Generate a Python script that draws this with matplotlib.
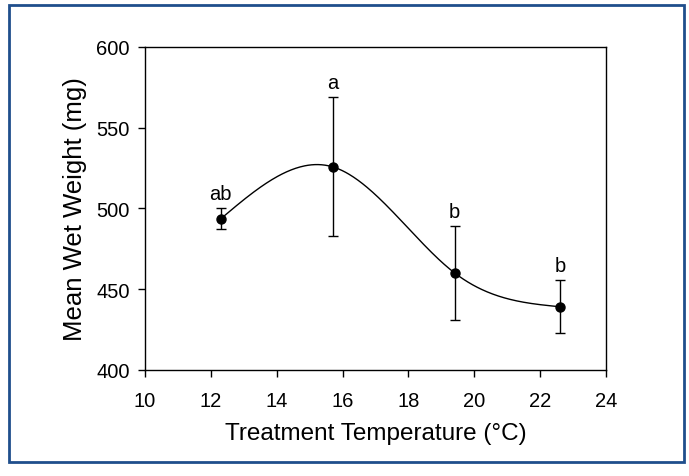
import numpy as np
import matplotlib.pyplot as plt
from matplotlib.patches import Rectangle

plt.rcParams["font.family"] = ["Liberation Sans", "DejaVu Sans"]

# data
temps = [12.3, 15.7, 19.4, 22.6]
weights = [493.5, 525.7, 460.0, 439.0]
errors = [6.5, 43.0, 29.0, 16.3]
groups = ["ab", "a", "b", "b"]


def natural_spline(x, y, xs):
    """natural cubic spline through the points (smooth line like SigmaPlot)"""
    x = np.asarray(x, float)
    y = np.asarray(y, float)
    n = len(x)
    h = np.diff(x)
    A = np.zeros((n, n))
    r = np.zeros(n)
    A[0, 0] = A[-1, -1] = 1
    for i in range(1, n - 1):
        A[i, i - 1] = h[i - 1]
        A[i, i] = 2 * (h[i - 1] + h[i])
        A[i, i + 1] = h[i]
        r[i] = 6 * ((y[i + 1] - y[i]) / h[i] - (y[i] - y[i - 1]) / h[i - 1])
    m = np.linalg.solve(A, r)
    out = np.empty_like(xs)
    for k, xv in enumerate(xs):
        i = min(max(np.searchsorted(x, xv) - 1, 0), n - 2)
        t0 = x[i + 1] - xv
        t1 = xv - x[i]
        out[k] = (m[i] * t0 ** 3 + m[i + 1] * t1 ** 3) / (6 * h[i]) \
            + (y[i] / h[i] - m[i] * h[i] / 6) * t0 \
            + (y[i + 1] / h[i] - m[i + 1] * h[i] / 6) * t1
    return out


fig = plt.figure(figsize=(6.89, 4.77), dpi=100)
fig.patches.append(Rectangle((9 / 689, 1 - 463 / 477), 675 / 689, 457 / 477,
                             transform=fig.transFigure, fill=False,
                             edgecolor="#1f4e8c", linewidth=2))
ax = fig.add_axes([0.2105, 0.2229, 0.669, 0.6765])

xs = np.linspace(temps[0], temps[-1], 300)
ax.plot(xs, natural_spline(temps, weights, xs), color="black", linewidth=1)
ax.errorbar(temps, weights, yerr=errors, fmt="o", color="black", markersize=6.5,
            elinewidth=1, capsize=3.5, capthick=1)

for x, y, e, g in zip(temps, weights, errors, groups):
    ax.annotate(g, (x, y + e), xytext=(0, 4), textcoords="offset points",
                ha="center", va="bottom", fontsize=14.5)

ax.set_xlim(10, 24)
ax.set_ylim(400, 600)
ax.set_xticks(range(10, 25, 2))
ax.set_yticks(range(400, 601, 50))
ax.tick_params(direction="out", length=5, width=1, labelsize=14.5, pad=6)
ax.tick_params(axis="x", pad=10)
for s in ax.spines.values():
    s.set_linewidth(1)
ax.set_xlabel("Treatment Temperature (°C)", fontsize=17.5, labelpad=9)
ax.set_ylabel("Mean Wet Weight (mg)", fontsize=18.5, labelpad=7)

plt.savefig("out.png", dpi=100)
